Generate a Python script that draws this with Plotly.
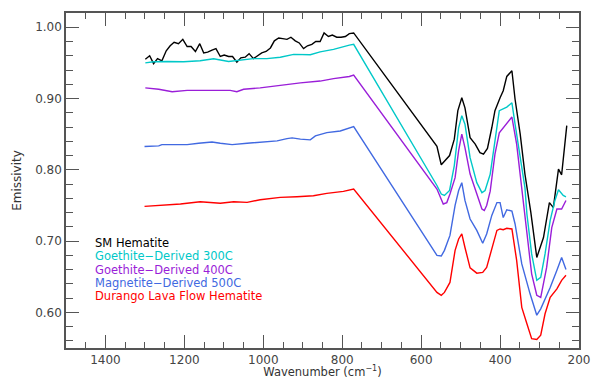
import plotly.graph_objects as go

# ---- data (wavenumber cm^-1, emissivity) ----
sm_x = [1299,1288,1278,1268,1257,1246,1236,1226,1215,1204,1193,1183,1172,1161,1151,1141,1130,1120,1109,1099,
        1088,1078,1067,1057,1046,1036,1025,1015,1004,993,982,972,961,951,940,930,919,909,898,888,877,867,856,
        846,835,825,814,803,792,782,771,560,549,528,516,507,497,489,476,463,451,442,432,421,413,400,392,383,
        370,362,349,337,322,307,290,275,265,252,244,231]
sm_y = [0.955,0.960,0.949,0.956,0.953,0.967,0.974,0.979,0.977,0.983,0.973,0.973,0.966,0.977,0.964,0.965,0.968,
        0.970,0.959,0.961,0.959,0.959,0.951,0.957,0.958,0.963,0.956,0.960,0.964,0.966,0.971,0.981,0.985,0.984,
        0.983,0.986,0.981,0.978,0.970,0.974,0.976,0.980,0.980,0.992,0.987,0.989,0.986,0.986,0.987,0.991,0.992,
        0.833,0.807,0.820,0.843,0.883,0.901,0.887,0.845,0.836,0.824,0.822,0.830,0.859,0.883,0.901,0.911,0.931,
        0.939,0.899,0.850,0.794,0.740,0.677,0.705,0.754,0.747,0.801,0.793,0.862]

g300_x = [1299,1278,1244,1202,1160,1126,1088,1067,1025,991,957,923,881,856,822,782,771,560,549,541,528,516,505,
          497,489,476,459,446,438,425,413,402,383,370,362,349,337,332,320,307,297,286,273,261,252,240,233]
g300_y = [0.950,0.9515,0.952,0.9515,0.953,0.9557,0.952,0.953,0.956,0.956,0.958,0.962,0.9615,0.9655,0.969,0.975,
          0.976,0.778,0.766,0.764,0.771,0.806,0.859,0.876,0.864,0.817,0.782,0.768,0.771,0.794,0.841,0.883,0.888,
          0.894,0.864,0.817,0.775,0.738,0.682,0.645,0.649,0.682,0.729,0.757,0.772,0.764,0.762]

g400_x = [1299,1265,1231,1193,1134,1084,1067,1050,1008,957,906,856,822,782,771,560,544,535,527,514,505,497,489,
          476,459,446,440,434,425,413,402,383,370,358,345,332,320,307,297,282,269,256,244,233]
g400_y = [0.915,0.913,0.9095,0.9115,0.9115,0.9115,0.9095,0.913,0.915,0.919,0.922,0.9245,0.928,0.931,0.933,0.773,
          0.752,0.754,0.766,0.789,0.827,0.850,0.831,0.794,0.766,0.745,0.743,0.750,0.770,0.822,0.852,0.866,0.874,
          0.836,0.775,0.715,0.654,0.624,0.621,0.663,0.719,0.745,0.745,0.757]

m500_x = [1301,1265,1257,1193,1164,1130,1109,1079,1041,991,965,940,927,906,881,868,839,805,784,771,560,549,541,
          527,514,505,497,489,476,459,444,434,421,408,400,392,383,370,362,345,324,307,297,273,256,244,233]
m500_y = [0.8326,0.8336,0.8354,0.8354,0.8373,0.839,0.8373,0.8354,0.8373,0.839,0.8406,0.8438,0.8448,0.843,0.842,
          0.8476,0.8522,0.8545,0.8578,0.8606,0.680,0.679,0.687,0.708,0.750,0.771,0.782,0.757,0.731,0.715,0.697,
          0.710,0.736,0.754,0.754,0.733,0.744,0.742,0.724,0.668,0.626,0.596,0.605,0.635,0.659,0.677,0.660]

dur_x = [1301,1244,1210,1160,1109,1075,1041,1008,957,915,873,839,797,771,560,549,541,527,514,505,497,489,476,
         459,444,434,421,408,400,392,383,370,358,345,332,320,307,297,286,273,256,244,233]
dur_y = [0.7487,0.7506,0.752,0.7552,0.753,0.7552,0.7543,0.758,0.7613,0.7622,0.7636,0.7669,0.7697,0.773,0.628,
         0.624,0.628,0.642,0.687,0.703,0.710,0.691,0.6625,0.655,0.656,0.663,0.691,0.715,0.717,0.716,0.718,0.717,
         0.673,0.607,0.584,0.563,0.562,0.568,0.598,0.621,0.633,0.645,0.652]

names = ["SM Hematite", "Goethite\u2212Derived 300C", "Goethite\u2212Derived 400C",
         "Magnetite\u2212Derived 500C", "Durango Lava Flow Hematite"]
colors = ["#000000", "#00C8C8", "#9A1ED8", "#4169E1", "#FF0000"]
series = [(sm_x, sm_y), (g300_x, g300_y), (g400_x, g400_y), (m500_x, m500_y), (dur_x, dur_y)]

x_ticks = [1400, 1200, 1000, 800, 600, 400, 200]
y_ticks = [0.60, 0.70, 0.80, 0.90, 1.00]

FONT = "DejaVu Sans"

fig = go.Figure()
for (xs, ys), nm, c in zip(series, names, colors):
    fig.add_trace(go.Scatter(x=xs, y=ys, mode="lines", name=nm,
                             line=dict(color=c, width=1.4), showlegend=False))

# legend as coloured text block
for i, (nm, c) in enumerate(zip(names, colors)):
    fig.add_annotation(x=0.052, y=0.313 - i * 0.0395, xref="paper", yref="paper",
                       text=nm, showarrow=False, xanchor="left", yanchor="middle",
                       font=dict(family=FONT, size=11.5, color=c))

axis_common = dict(showline=True, linecolor="#555555", linewidth=1.5, mirror="ticks",
                   ticks="inside", tickcolor="#555555", tickwidth=1.2, showgrid=False,
                   zeroline=False, automargin=False,
                   tickfont=dict(family=FONT, size=12, color="#444444"))

fig.update_xaxes(range=[1500, 200], tickvals=x_ticks, ticklen=13,
                 minor=dict(dtick=50, ticklen=6, ticks="inside", tickcolor="#555555", tickwidth=1.2),
                 title=dict(text="Wavenumber (cm<sup>\u22121</sup>)", standoff=4,
                            font=dict(family=FONT, size=11.5, color="#333333")),
                 **axis_common)
fig.update_yaxes(range=[0.55, 1.02], tickvals=y_ticks, tickformat=".2f", ticklen=13,
                 minor=dict(dtick=0.02, ticklen=7, ticks="inside", tickcolor="#555555", tickwidth=1.2),
                 title=dict(text="Emissivity", standoff=11,
                            font=dict(family=FONT, size=12, color="#333333")),
                 **axis_common)

fig.update_layout(width=591, height=379, margin=dict(l=66, r=12, t=13, b=31),
                  paper_bgcolor="white", plot_bgcolor="white",
                  font=dict(family=FONT, size=12, color="#333333"))

# remove the default page margin so the figure fills the window exactly
fig.write_html("out.html", config={"displayModeBar": False},
               post_script="document.body.style.margin='0';document.body.style.overflow='hidden';")
